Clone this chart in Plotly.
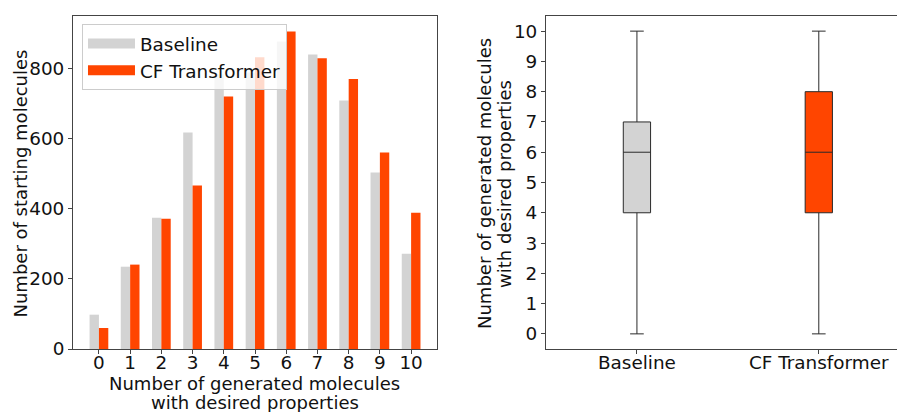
import plotly.graph_objects as go

categories = list(range(11))
baseline_counts = [98, 235, 375, 618, 785, 790, 878, 841, 710, 504, 272]
cf_counts = [60, 241, 372, 467, 721, 833, 907, 830, 771, 561, 389]

box_names = ["Baseline", "CF Transformer"]
box_pos = [1, 2]
box_q1 = [4, 4]
box_median = [6, 6]
box_q3 = [7, 8]
box_low = [0, 0]
box_high = [10, 10]

GREY = "#d3d3d3"
ORANGE = "#ff4500"
FONT = "DejaVu Sans"
AX = "#444444"
W = 897.0
TOP, BOT = 16.0, 349.0


def py(px):
    return (BOT - px) / (BOT - TOP)


def px_(x):
    return x / W


fig = go.Figure()
fig.add_trace(go.Bar(x=categories, y=baseline_counts, name="Baseline", showlegend=False,
                     marker=dict(color=GREY, line=dict(width=0)), xaxis="x", yaxis="y"))
fig.add_trace(go.Bar(x=categories, y=cf_counts, name="CF Transformer", showlegend=False,
                     marker=dict(color=ORANGE, line=dict(width=0)), xaxis="x", yaxis="y"))
# legend entries drawn as wide patches
for nm, col in [("Baseline", GREY), ("CF Transformer", ORANGE)]:
    fig.add_trace(go.Scatter(x=[None], y=[None], mode="lines", name=nm,
                             line=dict(color=col, width=13), xaxis="x", yaxis="y"))

colors = [GREY, ORANGE]
for i in range(2):
    fig.add_trace(go.Box(
        x=[box_pos[i]], q1=[box_q1[i]], median=[box_median[i]], q3=[box_q3[i]],
        lowerfence=[box_low[i]], upperfence=[box_high[i]],
        fillcolor=colors[i], line=dict(color="#2a2a2a", width=1),
        width=0.15, whiskerwidth=0.5, showlegend=False, xaxis="x2", yaxis="y2",
        hoverinfo="skip"))

TICKSZ = 18.4
axis_common = dict(showline=True, linecolor=AX, linewidth=1, mirror=True,
                   ticks="outside", ticklen=4, tickcolor=AX, showgrid=False,
                   zeroline=False, automargin=False,
                   tickfont=dict(size=TICKSZ, color="#111", family=FONT))

TF = dict(size=18, family=FONT, color="#111")
annotations = [
    dict(text="Number of generated molecules", x=px_(255), y=py(383)),
    dict(text="with desired properties", x=px_(255), y=py(402.5)),
    dict(text="Number of starting molecules", x=px_(20.5), y=py(184), textangle=-90),
    dict(text="Number of generated molecules", x=px_(485), y=py(184), textangle=-90),
    dict(text="with desired properties", x=px_(505), y=py(184), textangle=-90),
]
for a in annotations:
    a.update(xref="paper", yref="paper", xanchor="center", yanchor="middle",
             showarrow=False, font=TF)

fig.update_layout(
    width=897, height=412,
    margin=dict(l=0, r=0, t=16, b=63),
    paper_bgcolor="white", plot_bgcolor="white",
    font=dict(family=FONT, size=TICKSZ, color="#111"),
    barmode="group", bargap=0.4, bargroupgap=0,
    showlegend=True,
    legend=dict(x=0.0914, y=0.976, xanchor="left", yanchor="top",
                bgcolor="rgba(255,255,255,0.8)", bordercolor="#cccccc", borderwidth=1,
                font=dict(size=TICKSZ, family=FONT), itemwidth=47, tracegroupgap=0),
    xaxis=dict(domain=[0.0814, 0.4872], range=[-0.83, 10.83],
               tickvals=categories, ticktext=[str(c) for c in categories],
               ticklabelstandoff=-7, **axis_common),
    yaxis=dict(range=[0, 951], tickvals=[0, 200, 400, 600, 800], **axis_common),
    xaxis2=dict(domain=[0.6087, 1.0], range=[0.5, 2.43], anchor="y2",
                tickvals=box_pos, ticktext=box_names, ticklabelstandoff=-7, **axis_common),
    yaxis2=dict(range=[-0.5, 10.5], anchor="x2", tickvals=list(range(11)),
                **{**axis_common, "mirror": False}),
    annotations=annotations,
)

fig.write_html("out.html")
